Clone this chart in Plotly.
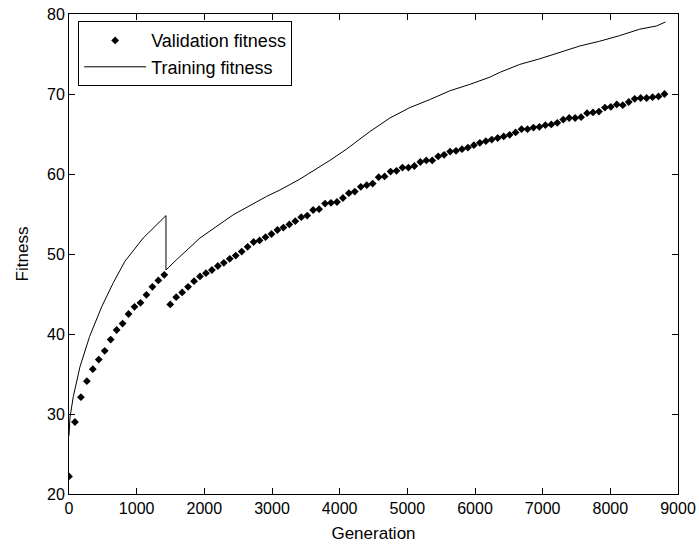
import plotly.graph_objects as go

# Validation fitness: one point every 88 generations (i = 0..100)
val_step = 88
val_fitness = [
    22.2, 29.0, 32.1, 34.1, 35.6, 36.8, 37.9, 39.3, 40.5, 41.3,
    42.5, 43.4, 43.9, 44.9, 45.9, 46.7, 47.4,
    43.7, 44.6, 45.2, 45.9, 46.6, 47.2, 47.6, 48.0, 48.5, 48.9,
    49.4, 49.8, 50.3, 50.9, 51.5, 51.7, 52.1, 52.5, 53.0,
    53.3, 53.7, 54.1, 54.6, 54.8, 55.5, 55.6, 56.3, 56.4, 56.5,
    57.0, 57.6, 57.8, 58.4, 58.6, 58.8, 59.6, 59.7, 60.3, 60.4,
    60.8, 60.8, 61.0, 61.5, 61.7, 61.7, 62.2, 62.4, 62.8, 62.9, 63.1,
    63.3, 63.6,
    63.9, 64.1, 64.3, 64.5, 64.7, 64.9, 65.2, 65.6, 65.6, 65.8,
    65.9, 66.1, 66.2, 66.4, 66.8, 67.0, 67.0, 67.1, 67.6, 67.7,
    67.8, 68.3, 68.4, 68.7, 68.6, 69.0, 69.4, 69.5, 69.5, 69.6,
    69.7, 70.0,
]
val_generation = [i * val_step for i in range(len(val_fitness))]

# Training fitness
train_generation = [
    0, 15, 64, 137, 162, 305, 483, 654, 827, 1097, 1433, 1433,
    1591, 1935, 2427, 2920, 3117, 3400, 3756, 3855, 4100, 4446,
    4742, 5037, 5332, 5628, 5923, 6219, 6366, 6662, 6957, 7253,
    7548, 7844, 8139, 8434, 8681, 8814,
]
train_fitness = [
    27.3, 29.6, 32.2, 35.1, 35.9, 39.7, 43.4, 46.4, 49.1, 52.0, 54.8, 48.0,
    49.3, 52.0, 54.9, 57.2, 58.0, 59.3, 61.1, 61.7, 63.1, 65.3,
    67.0, 68.3, 69.3, 70.4, 71.2, 72.1, 72.7, 73.7, 74.4, 75.2,
    76.0, 76.6, 77.3, 78.1, 78.5, 79.0,
]

x_ticks = list(range(0, 9001, 1000))
y_ticks = list(range(20, 81, 10))

FONT = "Liberation Sans, Arial, sans-serif"

fig = go.Figure()
fig.add_trace(go.Scatter(
    x=val_generation, y=val_fitness, mode="markers",
    name="Validation fitness",
    marker=dict(symbol="diamond", size=6, color="black"),
))
fig.add_trace(go.Scatter(
    x=train_generation, y=train_fitness, mode="lines",
    name="Training fitness",
    line=dict(color="black", width=1),
))

axis_common = dict(
    showline=True, linecolor="black", linewidth=1, mirror="ticks",
    ticks="inside", ticklen=6, tickcolor="black", tickwidth=1,
    showgrid=False, zeroline=False, automargin=False,
    tickfont=dict(family=FONT, size=16, color="black"),
)

fig.update_xaxes(
    range=[0, 9000], tickvals=x_ticks,
    title=dict(text="Generation", font=dict(family=FONT, size=17, color="black"), standoff=10),
    **axis_common,
)
fig.update_yaxes(
    range=[20, 80], tickvals=y_ticks,
    title=dict(text="Fitness", font=dict(family=FONT, size=17, color="black"), standoff=14),
    **axis_common,
)

fig.update_layout(
    width=699, height=545,
    margin=dict(l=69, r=21, t=14, b=51),
    paper_bgcolor="white", plot_bgcolor="white",
    font=dict(family=FONT, color="black"),
    legend=dict(
        x=0.015, y=0.985, xanchor="left", yanchor="top",
        bgcolor="white", bordercolor="black", borderwidth=1,
        font=dict(family=FONT, size=18, color="black"),
        itemwidth=62, tracegroupgap=0,
    ),
    showlegend=True,
)

fig.write_html("out.html")
